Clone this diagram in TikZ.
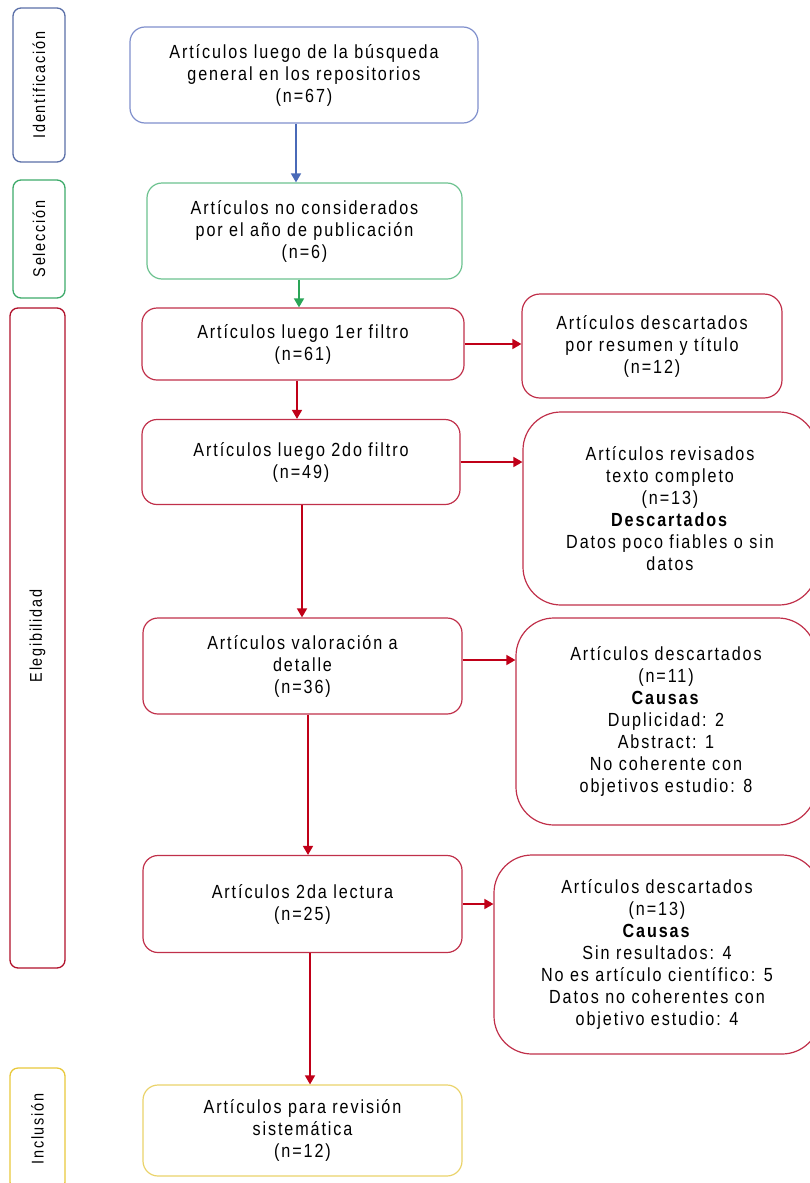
\documentclass[tikz,border=0pt]{standalone}
\usepackage{fontspec}
\setmainfont{Liberation Sans}[LetterSpace=10, FakeStretch=0.85]
\usetikzlibrary{arrows.meta}
\definecolor{bSide}{HTML}{5A6FA8}
\definecolor{bBox}{HTML}{7F8FCC}
\definecolor{bArr}{HTML}{4A6AB8}
\definecolor{gSide}{HTML}{3DAA6A}
\definecolor{gBox}{HTML}{6CC28F}
\definecolor{gArr}{HTML}{2AA557}
\definecolor{rSide}{HTML}{B0102A}
\definecolor{rBox}{HTML}{C0304A}
\definecolor{rArr}{HTML}{C00018}
\definecolor{ySide}{HTML}{E8C83A}
\definecolor{yBox}{HTML}{EAD36A}
\tikzset{
  mainbox/.style={draw, rounded corners=15pt, align=center, inner sep=0pt, line width=1.2pt,
    font=\fontsize{19}{22}\selectfont},
  bigbox/.style={mainbox, rounded corners=38pt},
  sidebox/.style={draw, rounded corners=8pt, inner sep=0pt, line width=1.3pt},
  sidetext/.style={rotate=90, font=\fontsize{17}{20}\selectfont},
  arr/.style={line width=1.6pt, -{Triangle[length=9pt,width=10pt]}}
}
\begin{document}
\begin{tikzpicture}[x=1pt,y=-1pt]
\path[use as bounding box] (0,0) rectangle (810,1183);
\begin{scope}
\clip (0,0) rectangle (810,1183);
% side boxes
\node[sidebox, draw=bSide, minimum width=52pt, minimum height=154pt] (sid) at (39,85) {};
\node[sidetext] (tid) at (sid.center) {Identificación};
\node[sidebox, draw=gSide, minimum width=52pt, minimum height=118pt] (ssel) at (39,239) {};
\node[sidetext] (tsel) at (ssel.center) {Selección};
\node[sidebox, draw=rSide, minimum width=55pt, minimum height=660pt] (seleg) at (37.5,638) {};
\node[sidetext] (teleg) at ([yshift=2pt]seleg.center) {Elegibilidad};
\node[sidebox, draw=ySide, minimum width=55pt, minimum height=122pt] (sinc) at (37.5,1129) {};
\node[sidetext] (tinc) at (sinc.center) {Inclusión};
% main column
\node[mainbox, draw=bBox, minimum width=348pt, minimum height=96pt] (id) at (304,75)
  {Artículos luego de la búsqueda\\general en los repositorios\\(n=67)};
\node[mainbox, draw=gBox, minimum width=315pt, minimum height=96pt] (sel) at (304.5,231)
  {Artículos no considerados\\por el año de publicación\\(n=6)};
\node[mainbox, draw=rBox, minimum width=322pt, minimum height=72pt] (f1) at (303,344)
  {Artículos luego 1er filtro\\(n=61)};
\node[mainbox, draw=rBox, minimum width=318pt, minimum height=85pt] (f2) at (301,462)
  {Artículos luego 2do filtro\\(n=49)};
\node[mainbox, draw=rBox, minimum width=319pt, minimum height=96pt] (f3) at (302.5,666)
  {Artículos valoración a\\detalle\\(n=36)};
\node[mainbox, draw=rBox, minimum width=319pt, minimum height=97pt] (f4) at (302.5,904)
  {Artículos 2da lectura\\(n=25)};
\node[mainbox, draw=yBox, minimum width=319pt, minimum height=91pt] (inc) at (302.5,1130.5)
  {Artículos para revisión\\sistemática\\(n=12)};
% right column
\node[mainbox, rounded corners=18pt, draw=rBox, minimum width=260pt, minimum height=104pt] (d1) at (652,346)
  {Artículos descartados\\por resumen y título\\(n=12)};
\node[bigbox, draw=rBox, minimum width=294pt, minimum height=193pt] (d2) at (670,508.5)
  {Artículos revisados\\texto completo\\(n=13)\\\textbf{Descartados}\\Datos poco fiables o sin\\datos};
\node[bigbox, draw=rBox, minimum width=300pt, minimum height=207pt] (d3) at (666,721.5)
  {Artículos descartados\\(n=11)\\\textbf{Causas}\\Duplicidad: 2\\Abstract: 1\\No coherente con\\objetivos estudio: 8};
\node[bigbox, draw=rBox, minimum width=326pt, minimum height=199pt] (d4) at (657,954.5)
  {Artículos descartados\\(n=13)\\\textbf{Causas}\\Sin resultados: 4\\No es artículo científico: 5\\Datos no coherentes con\\objetivo estudio: 4};
% arrows
\draw[arr, bArr] ([xshift=-8pt]id.south) -- ([xshift=-8pt]id.south |- sel.north);
\draw[arr, gArr] ([xshift=-5.5pt]sel.south) -- ([xshift=-5.5pt]sel.south |- f1.north);
\draw[arr, rArr] ([xshift=-6pt]f1.south) -- ([xshift=-6pt]f1.south |- f2.north);
\draw[arr, rArr] (f1.east) -- (f1.east -| d1.west);
\draw[arr, rArr] ([xshift=1pt]f2.south) -- ([xshift=1pt]f2.south |- f3.north);
\draw[arr, rArr] (f2.east) -- (f2.east -| d2.west);
\draw[arr, rArr] ([xshift=5.5pt]f3.south) -- ([xshift=5.5pt]f3.south |- f4.north);
\draw[arr, rArr] ([yshift=6pt]f3.east) -- ([yshift=6pt]f3.east -| d3.west);
\draw[arr, rArr] ([xshift=7.5pt]f4.south) -- ([xshift=7.5pt]f4.south |- inc.north);
\draw[arr, rArr] (f4.east) -- (f4.east -| d4.west);
\end{scope}
\end{tikzpicture}
\end{document}
